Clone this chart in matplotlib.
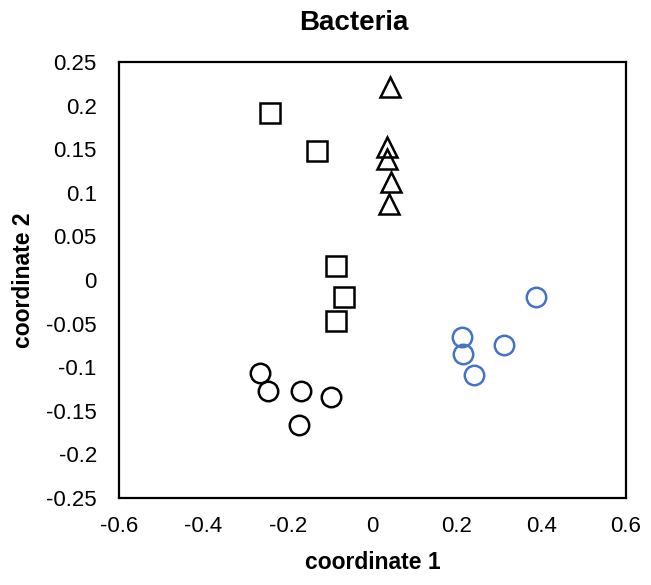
import matplotlib.pyplot as plt

plt.rcParams['font.family'] = ['Liberation Sans', 'DejaVu Sans']

# squares
sq_x = [-0.243, -0.132, -0.087, -0.067, -0.086]
sq_y = [0.192, 0.1485, 0.0155, -0.019, -0.047]
# triangles
tri_x = [0.042, 0.035, 0.0335, 0.0445, 0.038]
tri_y = [0.221, 0.153, 0.139, 0.1124, 0.087]
# black circles
cb_x = [-0.2655, -0.2466, -0.1685, -0.098, -0.173]
cb_y = [-0.1067, -0.1274, -0.127, -0.134, -0.1665]
# blue circles
cl_x = [0.386, 0.2126, 0.214, 0.311, 0.240]
cl_y = [-0.0197, -0.0657, -0.0845, -0.075, -0.109]

xticks = [-0.6, -0.4, -0.2, 0, 0.2, 0.4, 0.6]
yticks = [-0.25, -0.2, -0.15, -0.1, -0.05, 0, 0.05, 0.1, 0.15, 0.2, 0.25]

fig = plt.figure(figsize=(6.51, 5.85), dpi=100)
ax = fig.add_axes([0.1828, 0.1487, 0.7788, 0.7453])

kw = dict(linestyle='none', markersize=14, markerfacecolor='none', markeredgewidth=1.8)
ax.plot(sq_x, sq_y, 's', markeredgecolor='black', **kw)
ax.plot(tri_x, tri_y, '^', markeredgecolor='black', **kw)
ax.plot(cb_x, cb_y, 'o', markeredgecolor='black', **kw)
ax.plot(cl_x, cl_y, 'o', markeredgecolor='#4472C4', **kw)

ax.set_xlim(-0.6, 0.6)
ax.set_ylim(-0.25, 0.25)
ax.set_xticks(xticks)
ax.set_xticklabels([f'{v:g}' for v in xticks])
ax.set_yticks(yticks)
ax.set_yticklabels([f'{v:g}' for v in yticks])
ax.tick_params(length=0, labelsize=16)
ax.tick_params(axis='x', pad=13)
ax.tick_params(axis='y', pad=16)
for s in ax.spines.values():
    s.set_linewidth(1.6)

fig.text(354 / 651, 1 - 23 / 585, 'Bacteria', fontsize=20, fontweight='bold',
         ha='center', va='center')
ax.set_xlabel('coordinate 1', fontsize=16.5, fontweight='bold', labelpad=10)
ax.set_ylabel('coordinate 2', fontsize=16.5, fontweight='bold', labelpad=8)

fig.savefig('out.png', dpi=100)
